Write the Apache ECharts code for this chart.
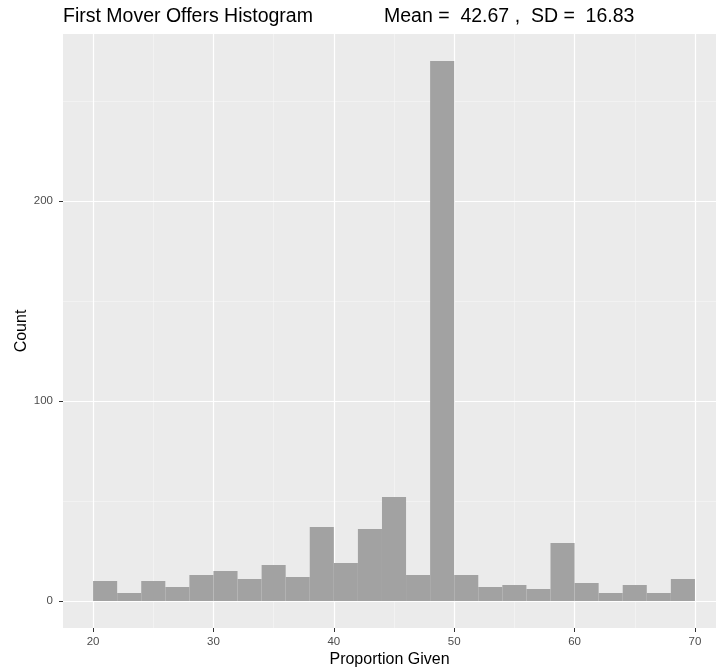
<!DOCTYPE html>
<html>
<head>
<meta charset="utf-8">
<title>First Mover Offers Histogram</title>
<script src="https://cdn.jsdelivr.net/npm/echarts@6/dist/echarts.min.js"></script>
<style>
  html, body { margin: 0; padding: 0; background: #ffffff; }
  #chart { width: 716px; height: 671px; }
</style>
</head>
<body>
<div id="chart"></div>
<script>
// Histogram bins (width 2) and their counts
const binStarts = [20, 22, 24, 26, 28, 30, 32, 34, 36, 38, 40, 42, 44, 46, 48, 50, 52, 54, 56, 58, 60, 62, 64, 66, 68];
const binEnds   = [22, 24, 26, 28, 30, 32, 34, 36, 38, 40, 42, 44, 46, 48, 50, 52, 54, 56, 58, 60, 62, 64, 66, 68, 70];
const counts    = [10, 4, 10, 7, 13, 15, 11, 18, 12, 37, 19, 36, 52, 13, 270, 13, 7, 8, 6, 29, 9, 4, 8, 4, 11];

// Axis breaks
const xMajorTicks = [20, 30, 40, 50, 60, 70];
const xMinorTicks = [25, 35, 45, 55, 65];
const yMajorTicks = [0, 100, 200];
const yMinorTicks = [50, 150, 250];

const titleText = 'First Mover Offers Histogram';
const statsText = 'Mean =  42.67 ,  SD =  16.83';

const FONT = '"Liberation Sans", Arial, Helvetica, sans-serif';
// Panel extent (the right side of the panel runs to the page edge)
const X_MIN = 17.5, X_MAX = 71.75, Y_MIN = -13.5, Y_MAX = 283.5;

const chart = echarts.init(document.getElementById('chart'), null, { renderer: 'canvas' });

const histData = binStarts.map((s, i) => [s, binEnds[i], counts[i]]);

chart.setOption({
  animation: false,
  backgroundColor: '#ffffff',
  title: [
    { text: titleText, left: 63, top: 7, padding: 0,
      textStyle: { fontFamily: FONT, fontSize: 19.5, fontWeight: 'normal', color: '#000000' } },
    { text: statsText, left: 384, top: 7, padding: 0,
      textStyle: { fontFamily: FONT, fontSize: 19.5, fontWeight: 'normal', color: '#000000' } }
  ],
  grid: [{ left: 63, right: 0, top: 34, bottom: 43, containLabel: false, outerBoundsMode: 'none' }],
  xAxis: [
    {
      type: 'value', min: X_MIN, max: X_MAX, gridIndex: 0, position: 'bottom',
      name: 'Proportion Given', nameLocation: 'middle', nameGap: 24, nameMoveOverlap: false,
      nameTextStyle: { fontFamily: FONT, fontSize: 16, color: '#000000' },
      axisLine: { show: false, onZero: false },
      axisTick: { show: true, length: 4, customValues: xMajorTicks, lineStyle: { color: '#333333', width: 1 } },
      axisLabel: { customValues: xMajorTicks, fontFamily: FONT, fontSize: 11.5, color: '#4d4d4d', margin: 8 },
      splitLine: { show: true, lineStyle: { color: '#ffffff', width: 1.2 } },
      z: 1
    },
    {
      type: 'value', min: X_MIN, max: X_MAX, gridIndex: 0, position: 'bottom',
      axisLine: { show: false, onZero: false },
      axisTick: { show: false, customValues: xMinorTicks },
      axisLabel: { show: false, customValues: xMinorTicks },
      splitLine: { show: true, lineStyle: { color: '#f6f6f6', width: 0.6 } },
      z: 0
    }
  ],
  yAxis: [
    {
      type: 'value', min: Y_MIN, max: Y_MAX, gridIndex: 0, position: 'left',
      name: 'Count', nameLocation: 'middle', nameGap: 33, nameRotate: 90, nameMoveOverlap: false,
      nameTextStyle: { fontFamily: FONT, fontSize: 16, color: '#000000' },
      axisLine: { show: false, onZero: false },
      axisTick: { show: true, length: 4, customValues: yMajorTicks, lineStyle: { color: '#333333', width: 1 } },
      axisLabel: { customValues: yMajorTicks, fontFamily: FONT, fontSize: 11.5, color: '#4d4d4d', margin: 10 },
      splitLine: { show: true, lineStyle: { color: '#ffffff', width: 1.2 } },
      z: 1
    },
    {
      type: 'value', min: Y_MIN, max: Y_MAX, gridIndex: 0, position: 'left',
      axisLine: { show: false, onZero: false },
      axisTick: { show: false, customValues: yMinorTicks },
      axisLabel: { show: false, customValues: yMinorTicks },
      splitLine: { show: true, lineStyle: { color: '#f6f6f6', width: 0.6 } },
      z: 0
    }
  ],
  series: [
    {
      // grey panel background
      type: 'custom',
      xAxisIndex: 0, yAxisIndex: 0,
      silent: true,
      z: -10,
      data: [[X_MIN, Y_MIN, X_MAX, Y_MAX]],
      renderItem: function (params, api) {
        const c = params.coordSys;
        return { type: 'rect', shape: { x: c.x, y: c.y, width: c.width, height: c.height },
                 style: { fill: '#ebebeb' } };
      }
    },
    {
      name: 'Count',
      type: 'custom',
      xAxisIndex: 0, yAxisIndex: 0,
      z: 5,
      encode: { x: [0, 1], y: 2 },
      data: histData,
      renderItem: function (params, api) {
        const p0 = api.coord([api.value(0), 0]);
        const p1 = api.coord([api.value(1), api.value(2)]);
        return {
          type: 'rect',
          shape: { x: p0[0], y: p1[1], width: p1[0] - p0[0], height: p0[1] - p1[1] },
          style: { fill: '#a2a2a2' }
        };
      }
    }
  ]
});
</script>
</body>
</html>
